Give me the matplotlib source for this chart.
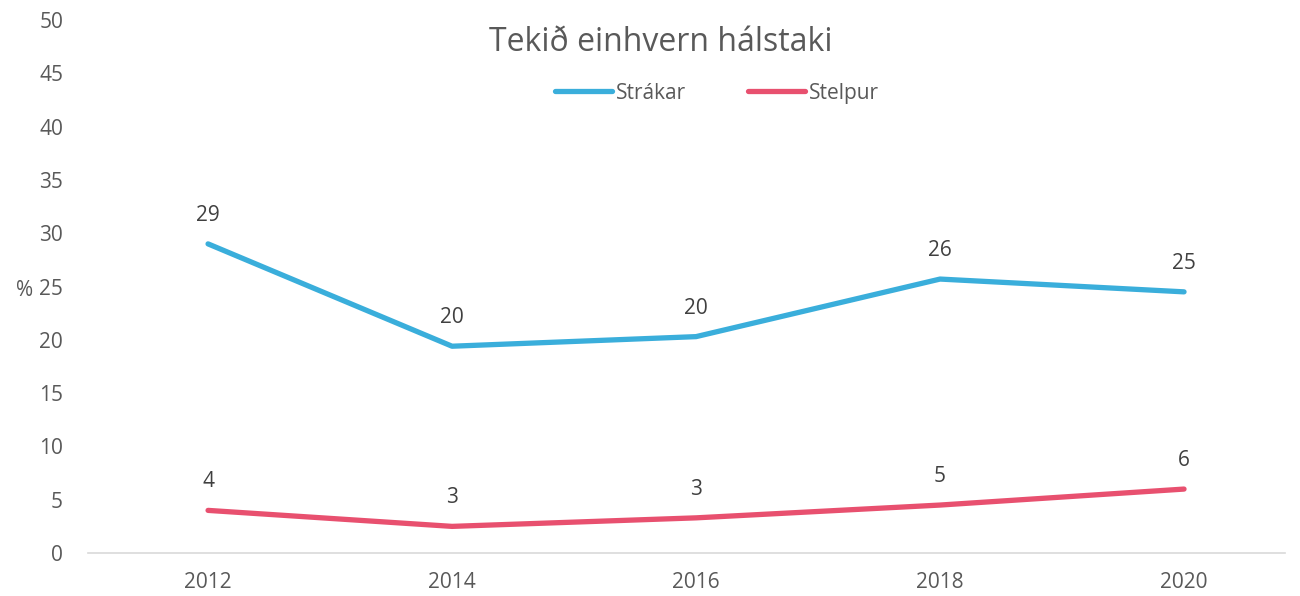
import numpy as np
import matplotlib.pyplot as plt

plt.rcParams['font.family'] = ['Open Sans', 'DejaVu Sans']

years = ['2012', '2014', '2016', '2018', '2020']
strakar = [29.0, 19.4, 20.3, 25.7, 24.5]
stelpur = [4.0, 2.5, 3.3, 4.5, 6.0]
strakar_labels = ['29', '20', '20', '26', '25']
stelpur_labels = ['4', '3', '3', '5', '6']

txt = '#595959'
blue = '#3AAEDB'
red = '#E8506F'

fig = plt.figure(figsize=(13, 5.96), dpi=100)
ax = fig.add_axes([0.0677, 0.0721, 0.9208, 0.8943])

x = np.arange(len(years))
ax.plot(x, strakar, color=blue, lw=3.8, solid_capstyle='round', label='Strákar')
ax.plot(x, stelpur, color=red, lw=3.8, solid_capstyle='round', label='Stelpur')

for xi, v, s in zip(x, strakar, strakar_labels):
    ax.annotate(s, (xi, v), xytext=(0, 13), textcoords='offset points',
                ha='center', va='bottom', fontsize=15, color='#404040')
for xi, v, s in zip(x, stelpur, stelpur_labels):
    ax.annotate(s, (xi, v), xytext=(0, 13), textcoords='offset points',
                ha='center', va='bottom', fontsize=15, color='#404040')

ax.set_xlim(-0.492, 4.414)
ax.set_ylim(0, 50)
ax.set_yticks(range(0, 51, 5))
ax.set_xticks(x)
ax.set_xticklabels(years)
ax.tick_params(length=0, labelsize=15, colors=txt)
ax.tick_params(axis='x', pad=14)
ax.tick_params(axis='y', pad=18)

for sp in ['top', 'right', 'left']:
    ax.spines[sp].set_visible(False)
ax.spines['bottom'].set_color('#D9D9D9')
ax.spines['bottom'].set_linewidth(1.2)

fig.text(0.012, 0.513, '%', fontsize=15, color=txt, ha='left', va='center')
fig.text(0.508, 0.928, 'Tekið einhvern hálstaki', fontsize=23, color=txt,
         ha='center', va='center')

leg = ax.legend(loc='center', bbox_to_anchor=(0.5255, 0.863), ncol=2, frameon=False,
                fontsize=15, handlelength=2.7, handletextpad=0.2, columnspacing=3.0,
                labelcolor=txt)

fig.savefig('out.png', dpi=100)
